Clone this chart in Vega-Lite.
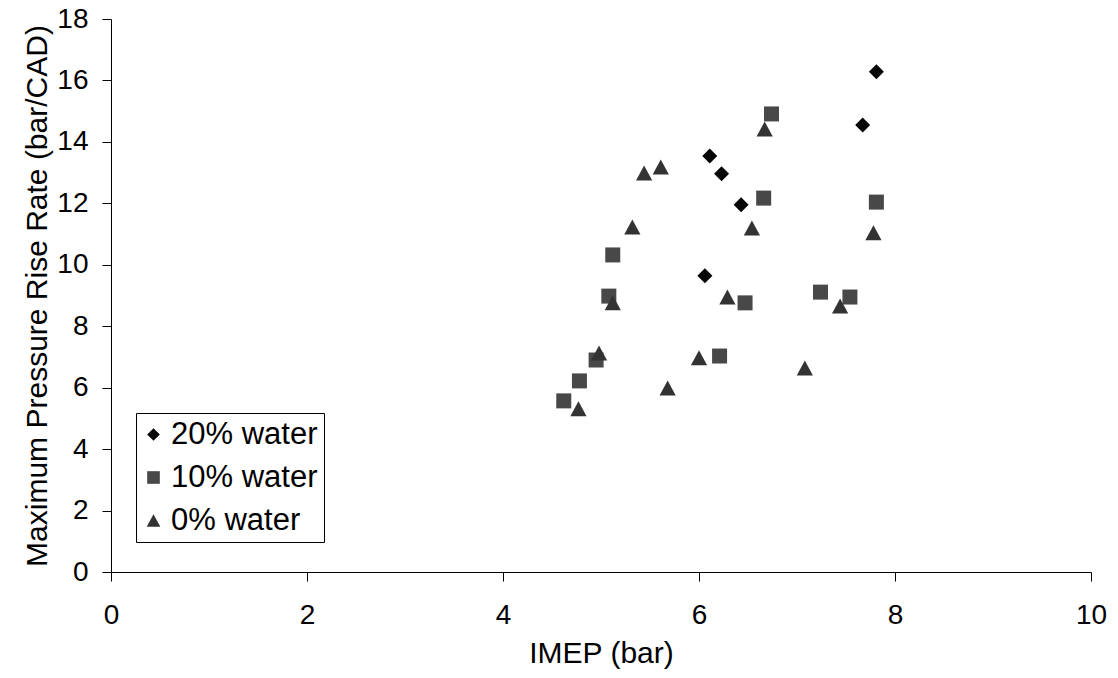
{
  "$schema": "https://vega.github.io/schema/vega-lite/v6.json",
  "width": 980,
  "height": 553,
  "autosize": {"type": "none"},
  "padding": {"left": 111, "top": 19, "right": 27, "bottom": 106},
  "background": "white",
  "config": {
    "view": {"stroke": null},
    "font": "Liberation Sans"
  },
  "data": {
    "values": [
      {"imep": 7.81, "rate": 16.28, "series": "20% water"},
      {"imep": 7.67, "rate": 14.55, "series": "20% water"},
      {"imep": 6.11, "rate": 13.54, "series": "20% water"},
      {"imep": 6.23, "rate": 12.96, "series": "20% water"},
      {"imep": 6.43, "rate": 11.95, "series": "20% water"},
      {"imep": 6.06, "rate": 9.64, "series": "20% water"},
      {"imep": 6.74, "rate": 14.91, "series": "10% water"},
      {"imep": 6.66, "rate": 12.17, "series": "10% water"},
      {"imep": 7.81, "rate": 12.04, "series": "10% water"},
      {"imep": 6.47, "rate": 8.76, "series": "10% water"},
      {"imep": 7.24, "rate": 9.11, "series": "10% water"},
      {"imep": 7.54, "rate": 8.95, "series": "10% water"},
      {"imep": 6.21, "rate": 7.03, "series": "10% water"},
      {"imep": 5.12, "rate": 10.32, "series": "10% water"},
      {"imep": 5.08, "rate": 8.98, "series": "10% water"},
      {"imep": 4.95, "rate": 6.9, "series": "10% water"},
      {"imep": 4.78, "rate": 6.22, "series": "10% water"},
      {"imep": 4.62, "rate": 5.57, "series": "10% water"},
      {"imep": 6.67, "rate": 14.42, "series": "0% water"},
      {"imep": 5.44, "rate": 12.99, "series": "0% water"},
      {"imep": 5.61, "rate": 13.18, "series": "0% water"},
      {"imep": 5.32, "rate": 11.23, "series": "0% water"},
      {"imep": 6.54, "rate": 11.2, "series": "0% water"},
      {"imep": 7.78, "rate": 11.04, "series": "0% water"},
      {"imep": 6.29, "rate": 8.95, "series": "0% water"},
      {"imep": 7.44, "rate": 8.66, "series": "0% water"},
      {"imep": 6.0, "rate": 6.97, "series": "0% water"},
      {"imep": 7.08, "rate": 6.64, "series": "0% water"},
      {"imep": 5.68, "rate": 5.99, "series": "0% water"},
      {"imep": 5.12, "rate": 8.76, "series": "0% water"},
      {"imep": 4.98, "rate": 7.13, "series": "0% water"},
      {"imep": 4.77, "rate": 5.31, "series": "0% water"}
    ]
  },
  "mark": {"type": "point", "filled": true, "opacity": 1, "size": 225},
  "encoding": {
    "x": {
      "field": "imep",
      "type": "quantitative",
      "title": "IMEP (bar)",
      "scale": {"domain": [0, 10], "nice": false, "zero": true},
      "axis": {
        "values": [0, 2, 4, 6, 8, 10],
        "grid": false,
        "labelFlush": false,
        "domainColor": "#000",
        "tickColor": "#000",
        "tickSize": 9,
        "labelFontSize": 28,
        "labelColor": "#000",
        "labelPadding": 20,
        "titleFontSize": 30,
        "titleFontWeight": "normal",
        "titleColor": "#000",
        "titlePadding": 9
      }
    },
    "y": {
      "field": "rate",
      "type": "quantitative",
      "title": "Maximum Pressure Rise Rate (bar/CAD)",
      "scale": {"domain": [0, 18], "nice": false},
      "axis": {
        "values": [0, 2, 4, 6, 8, 10, 12, 14, 16, 18],
        "grid": false,
        "labelFlush": false,
        "domainColor": "#000",
        "tickColor": "#000",
        "tickSize": 9,
        "labelFontSize": 28,
        "labelColor": "#000",
        "labelPadding": 14,
        "titleFontSize": 30,
        "titleFontWeight": "normal",
        "titleColor": "#000",
        "titlePadding": 4
      }
    },
    "shape": {
      "field": "series",
      "type": "nominal",
      "scale": {
        "domain": ["20% water", "10% water", "0% water"],
        "range": ["diamond", "square", "M0,-1L1.08,1L-1.08,1Z"]
      },
      "legend": {
        "title": null,
        "orient": "none",
        "legendX": 25,
        "legendY": 394,
        "strokeColor": "#000",
        "fillColor": "white",
        "padding": 6,
        "rowPadding": 11,
        "symbolSize": 160,
        "symbolStrokeWidth": 0,
        "labelFontSize": 31,
        "labelColor": "#000",
        "labelOffset": 2,
        "symbolOffset": -4
      }
    },
    "color": {
      "field": "series",
      "type": "nominal",
      "scale": {
        "domain": ["20% water", "10% water", "0% water"],
        "range": ["#050505", "#484848", "#333333"]
      },
      "legend": {
        "title": null,
        "orient": "none",
        "legendX": 25,
        "legendY": 394,
        "strokeColor": "#000",
        "fillColor": "white",
        "padding": 6,
        "rowPadding": 11,
        "symbolSize": 160,
        "symbolStrokeWidth": 0,
        "labelFontSize": 31,
        "labelColor": "#000",
        "labelOffset": 2,
        "symbolOffset": -4
      }
    }
  }
}
